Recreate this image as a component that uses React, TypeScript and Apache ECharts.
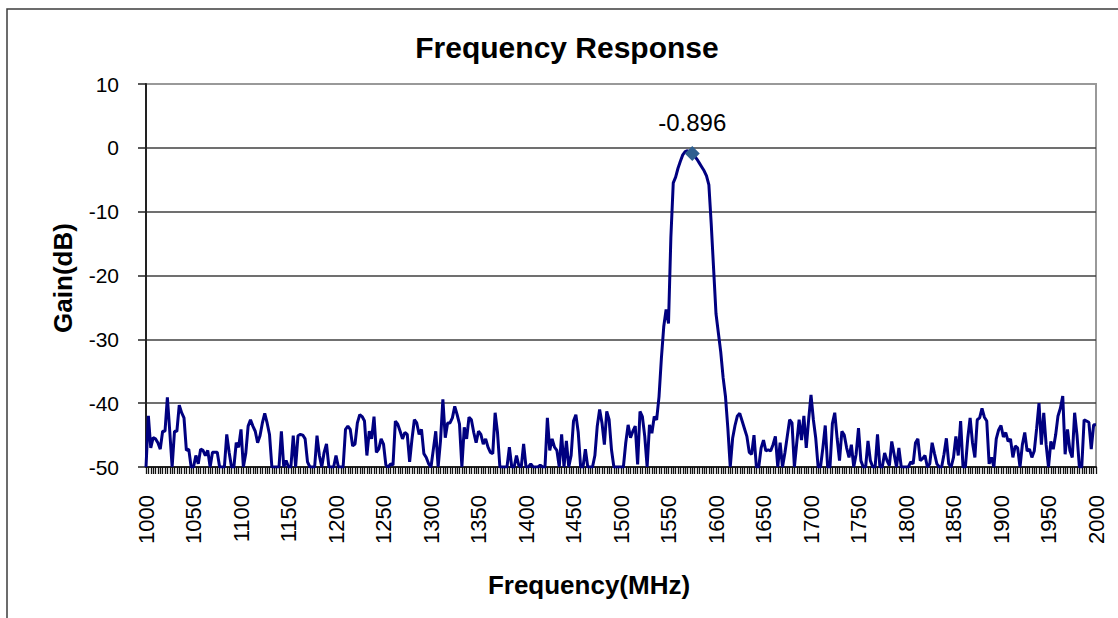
import React, { useEffect, useRef } from "react";
import * as echarts from "echarts";

const TITLE = "Frequency Response";
const X_NAME = "Frequency(MHz)";
const Y_NAME = "Gain(dB)";

const FREQ_START = 1000;
const FREQ_STEP = 2.5;

// Gain (dB) sampled every 2.5 MHz from 1000 to 2000 MHz
const GAINS: number[] = [
  -50, -42, -47, -45.4, -45.6, -46.2, -47.2, -44.4, -44.4, -39.1,
  -44.4, -50, -44.4, -44.4, -40.3, -41.5, -42.3, -47.4, -47.2, -50,
  -50, -48.2, -49.5, -47.2, -47.4, -48.2, -47.4, -50, -47.7, -47.7,
  -47.7, -50, -50, -50, -44.9, -47.7, -50, -50, -46.2, -46.9,
  -44.1, -50, -47.9, -43.6, -42.6, -43.6, -44.4, -46.2, -45.1, -43.1,
  -41.6, -43.1, -44.9, -50, -50, -50, -50, -44.4, -50, -49,
  -50, -50, -45.1, -50, -45.1, -44.9, -45, -45.6, -49.2, -50,
  -50, -50, -45.1, -48.2, -50, -47.7, -46.4, -50, -50, -50,
  -48.2, -50, -50, -50, -44.1, -43.6, -44.1, -46.7, -46.4, -43.1,
  -41.8, -42.1, -42.8, -48.2, -44.4, -45.6, -42.1, -47.7, -47.2, -45.6,
  -46.4, -49.7, -50, -49.5, -49.7, -42.8, -43.3, -44.4, -45.6, -44.6,
  -44.9, -49.2, -45.6, -42.6, -43.1, -44.9, -44.1, -47.9, -48.5, -49.5,
  -50, -47.2, -44.4, -50, -45.9, -39.4, -45.4, -43.1, -43.1, -42.3,
  -40.5, -41.8, -43.3, -50, -43.8, -45.6, -42.2, -42.6, -44.6, -46.2,
  -44.4, -44.9, -46.4, -45.6, -46.9, -47.7, -47.9, -41.5, -44.6, -50,
  -50, -50, -50, -46.9, -50, -50, -48.2, -49.8, -50, -46.4,
  -50, -50, -49.5, -50, -50, -50, -49.7, -50, -50, -42.3,
  -47.4, -45.6, -46.9, -47.4, -50, -44.9, -50, -45.9, -50, -48.2,
  -42.8, -41.8, -44.6, -50, -50, -47.2, -50, -50, -50, -48.2,
  -43.6, -41, -43.1, -46.5, -41.3, -42.6, -47.3, -50, -50, -50,
  -50, -50, -46.2, -43.4, -45.4, -44.4, -43.6, -49.6, -41.3, -42.1,
  -45.2, -50, -43.4, -44.7, -42.1, -42.6, -39, -33, -28, -25.3,
  -27.5, -14, -5.5, -4.6, -3.2, -2.1, -1.1, -0.6, -0.45, -0.65,
  -0.896, -1.3, -1.8, -2.4, -3.0, -3.6, -4.4, -5.8, -12, -19,
  -26, -29, -32, -36, -39, -44, -50, -45.5, -43.5, -42,
  -41.6, -42.8, -44, -45.2, -47.7, -48, -45, -50, -50, -47,
  -45.8, -47.5, -47.3, -47.5, -46.5, -45.2, -50, -46.2, -50, -47.8,
  -45.2, -42.6, -43.1, -50, -46.2, -42.6, -45.8, -42, -47, -42.6,
  -38.7, -42.6, -45.5, -50, -50, -47, -43.5, -50, -50, -43.2,
  -41.5, -45.5, -49, -44.4, -45, -47, -48.5, -46.5, -50, -48,
  -43.9, -49, -50, -50, -45.9, -49, -50, -50, -44.9, -50,
  -50, -47.8, -49, -49.8, -46, -48, -50, -47, -50, -50,
  -50, -50, -49.2, -49.5, -46.2, -45.6, -49, -48.7, -48.2, -50,
  -49.5, -46.2, -47.9, -49.5, -50, -50, -48, -45.5, -49.5, -50,
  -48.5, -45.2, -48.2, -42.8, -50, -50, -45.5, -42.3, -46.2, -48.5,
  -42.6, -42.3, -40.8, -42.2, -42.8, -49.5, -48.5, -50, -45.6, -44.2,
  -43.5, -45.3, -44.6, -46, -45.6, -48.5, -46.7, -47, -50, -46.5,
  -44.6, -47.5, -47.2, -48.5, -47.5, -44, -40, -46.5, -41.5, -46.5,
  -50, -46, -47.2, -45, -42, -40.8, -38.9, -48, -44.1, -47.4,
  -48.5, -41.5, -45, -50, -50, -42.6, -42.8, -43, -47.2, -43.4,
  -43.4,
];

const FREQS: string[] = GAINS.map((_, i) => String(FREQ_START + FREQ_STEP * i));

const MARKER_FREQ = "1575";
const MARKER_GAIN = -0.896;

const Y_MIN = -50;
const Y_MAX = 10;
const Y_STEP = 10;

const FONT = '"Liberation Sans", Arial, Helvetica, sans-serif';

export default function App() {
  const ref = useRef<HTMLDivElement>(null);

  useEffect(() => {
    if (!ref.current) return;
    const chart = echarts.init(ref.current, null, { renderer: "svg" });
    const splitColors = ["#404040", "#404040", "#404040", "#404040", "#404040", "#404040", "rgba(0,0,0,0)"];
    chart.setOption({
      animation: false,
      backgroundColor: "#ffffff",
      grid: {
        left: 146,
        top: 84,
        width: 950,
        height: 383,
        show: true,
        borderColor: "#999999",
        borderWidth: 2,
        backgroundColor: "rgba(0,0,0,0)",
      },
      graphic: [
        {
          type: "rect",
          silent: true,
          z: -10,
          shape: { x: 7, y: 9, width: 1140, height: 650 },
          style: { fill: "none", stroke: "#3c3c3c", lineWidth: 1.5 },
        },
        {
          type: "text",
          x: 567,
          y: 47,
          style: {
            text: TITLE,
            fontFamily: FONT,
            fontSize: 30,
            fontWeight: "bold",
            fill: "#000",
            align: "center",
            verticalAlign: "middle",
          },
        },
        {
          type: "text",
          x: 589,
          y: 585,
          style: {
            text: X_NAME,
            fontFamily: FONT,
            fontSize: 26,
            fontWeight: "bold",
            fill: "#000",
            align: "center",
            verticalAlign: "middle",
          },
        },
        {
          type: "text",
          x: 63,
          y: 278,
          rotation: Math.PI / 2,
          style: {
            text: Y_NAME,
            fontFamily: FONT,
            fontSize: 26,
            fontWeight: "bold",
            fill: "#000",
            align: "center",
            verticalAlign: "middle",
          },
        },
      ],
      xAxis: {
        type: "category",
        data: FREQS,
        boundaryGap: false,
        axisLine: { show: true, onZero: false, lineStyle: { color: "#222", width: 2 } },
        axisTick: { show: true, interval: 0, length: 7, lineStyle: { color: "#111", width: 1.3 } },
        axisLabel: {
          interval: 19,
          rotate: 90,
          margin: 28,
          fontSize: 22,
          fontFamily: FONT,
          color: "#000",
          formatter: (v: string) => String(Number(v)),
        },
        splitLine: { show: false },
      },
      yAxis: {
        type: "value",
        min: Y_MIN,
        max: Y_MAX,
        interval: Y_STEP,
        axisLine: { show: true, lineStyle: { color: "#222", width: 2 } },
        axisTick: { show: true, length: 8, lineStyle: { color: "#222", width: 1.5 } },
        axisLabel: { margin: 27, fontSize: 21, fontFamily: FONT, color: "#000" },
        splitLine: { show: true, lineStyle: { color: splitColors, width: 1.5 } },
      },
      series: [
        {
          type: "line",
          data: GAINS,
          showSymbol: false,
          symbol: "none",
          lineStyle: { color: "#000080", width: 3 },
          z: 3,
        },
        {
          type: "scatter",
          data: [[MARKER_FREQ, MARKER_GAIN]],
          symbol: "diamond",
          symbolSize: 15,
          itemStyle: { color: "#2F5F8F", opacity: 1 },
          z: 4,
          label: {
            show: true,
            position: "top",
            distance: 12,
            formatter: () => String(MARKER_GAIN),
            fontFamily: FONT,
            fontSize: 24,
            color: "#000000",
          },
        },
      ],
    });
    return () => chart.dispose();
  }, []);

  return (
    <div
      ref={ref}
      style={{ position: "fixed", left: 0, top: 0, width: 1118, height: 618 }}
    />
  );
}
